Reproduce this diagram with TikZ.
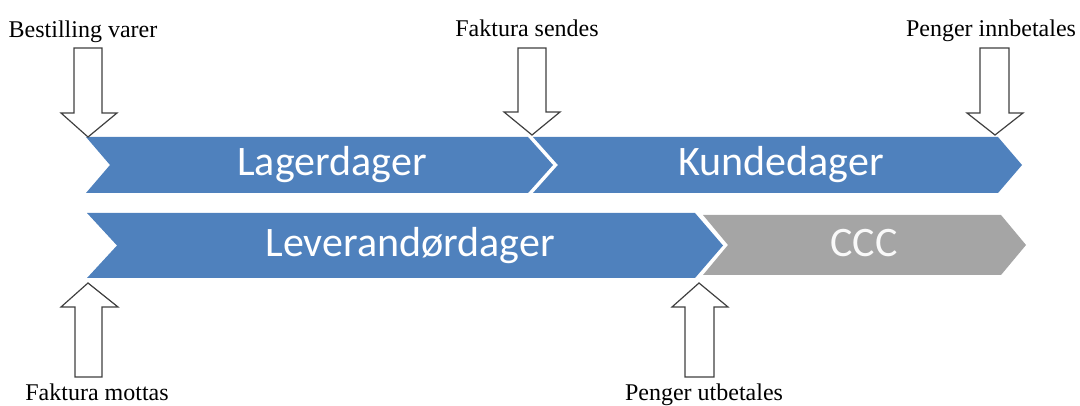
\documentclass[tikz,border=0pt]{standalone}
\usepackage{fontspec}
\setmainfont{Liberation Serif}
\newfontfamily\calfont{Carlito}
\definecolor{ofblue}{HTML}{4F81BD}
\definecolor{ofgray}{HTML}{A5A5A5}
\definecolor{arrline}{HTML}{404040}
\begin{document}
\begin{tikzpicture}[x=1pt,y=-1pt,
  bandblue/.style={fill=ofblue,draw=none},
  bandgray/.style={fill=ofgray,draw=none},
  blockarrow/.style={fill=white,draw=arrline,line width=1.2pt,line join=miter},
  bandtext/.style={text=white,font=\calfont\fontsize{42}{42}\selectfont,anchor=base,inner sep=0pt},
  cccstyle/.style={text=white!95!gray,font=\calfont\fontsize{42}{42}\selectfont,anchor=base,inner sep=0pt},
  eventlabel/.style={font=\fontsize{24}{24}\selectfont,anchor=base,inner sep=0pt}]
\useasboundingbox (0,0) rectangle (1080,406);
% top row chevrons
\fill[bandblue] (86,137) -- (528,137) -- (553,165) -- (528,193) -- (86,193) -- (110,165) -- cycle;
\fill[bandblue] (533,137) -- (998,137) -- (1022,165) -- (998,193) -- (533,193) -- (558,165) -- cycle;
% bottom row chevrons
\fill[bandblue] (87,213) -- (695,213) -- (723,245.5) -- (695,278) -- (87,278) -- (117,245.5) -- cycle;
\fill[bandgray] (703,215) -- (1001,215) -- (1026,245) -- (1001,275) -- (703,275) -- (728,245) -- cycle;
% band texts
\node[bandtext] (lager) at (332,176) {Lagerdager};
\node[bandtext] (kunde) at (781,176) {Kundedager};
\node[bandtext] (lev) at (410,257) {Leverandørdager};
\node[cccstyle] (ccc) at (864,257) {CCC};
% down arrows
\draw[blockarrow] (74,48) -- (102,48) -- (102,113) -- (117,113) -- (88,137) -- (61,113) -- (74,113) -- cycle;
\draw[blockarrow] (518,48) -- (546,48) -- (546,112) -- (560,112) -- (532,135) -- (504,112) -- (518,112) -- cycle;
\draw[blockarrow] (980,48) -- (1009,48) -- (1009,113) -- (1023,113) -- (995,135) -- (967,113) -- (980,113) -- cycle;
% up arrows
\draw[blockarrow] (75,377) -- (102,377) -- (102,307) -- (118,307) -- (88,283) -- (61,307) -- (75,307) -- cycle;
\draw[blockarrow] (685,377) -- (714,377) -- (714,307) -- (728,307) -- (699,283) -- (672,307) -- (685,307) -- cycle;
% labels
\node[eventlabel] (bestilling) at (83,38) {Bestilling varer};
\node[eventlabel] (fsendes) at (527,37) {Faktura sendes};
\node[eventlabel] (pinn) at (991,37) {Penger innbetales};
\node[eventlabel] (fmottas) at (97,400) {Faktura mottas};
\node[eventlabel] (putb) at (704,400) {Penger utbetales};
\end{tikzpicture}
\end{document}
